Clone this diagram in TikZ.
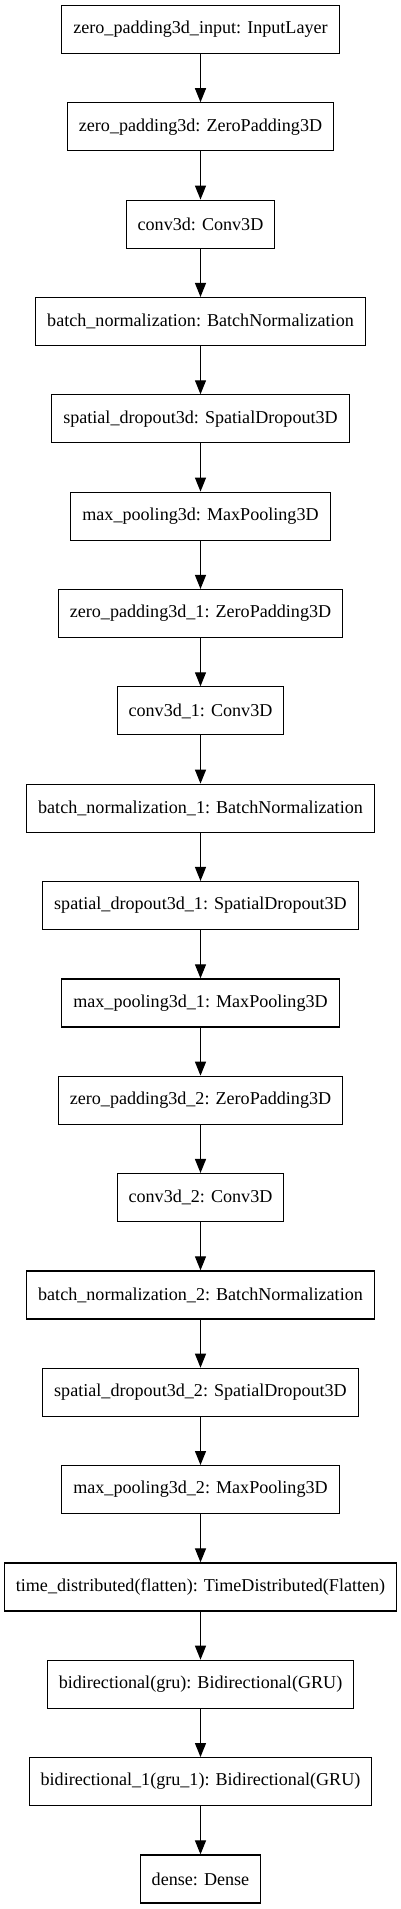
\documentclass[tikz,border=0pt]{standalone}
\usepackage{fontspec}
\setmainfont{Liberation Serif}
\usepackage{tikz}
\usetikzlibrary{arrows.meta}
\tikzstyle{layer}=[rectangle,draw=black,fill=white,line width=1.2pt,
  minimum height=48pt,inner xsep=11.5pt,font=\fontsize{18.1}{22}\selectfont]
\tikzstyle{flow}=[line width=1.2pt,-{Triangle[width=11pt,length=14pt]}]
\tikzstyle{none}=[]

\begin{document}
\begin{tikzpicture}[x=1pt,y=1pt]
		\useasboundingbox (0, 0) rectangle (401, -1909);
		\node [style=layer] (0) at (200.5, -29.5) {zero\_padding3d\_input: InputLayer};
		\node [style=layer] (1) at (200.5, -126.84) {zero\_padding3d: ZeroPadding3D};
		\node [style=layer] (2) at (200.5, -224.18) {conv3d: Conv3D};
		\node [style=layer] (3) at (200.5, -321.52) {batch\_normalization: BatchNormalization};
		\node [style=layer] (4) at (200.5, -418.86) {spatial\_dropout3d: SpatialDropout3D};
		\node [style=layer] (5) at (200.5, -516.2) {max\_pooling3d: MaxPooling3D};
		\node [style=layer] (6) at (200.5, -613.54) {zero\_padding3d\_1: ZeroPadding3D};
		\node [style=layer] (7) at (200.5, -710.88) {conv3d\_1: Conv3D};
		\node [style=layer] (8) at (200.5, -808.22) {batch\_normalization\_1: BatchNormalization};
		\node [style=layer] (9) at (200.5, -905.56) {spatial\_dropout3d\_1: SpatialDropout3D};
		\node [style=layer] (10) at (200.5, -1002.9) {max\_pooling3d\_1: MaxPooling3D};
		\node [style=layer] (11) at (200.5, -1100.24) {zero\_padding3d\_2: ZeroPadding3D};
		\node [style=layer] (12) at (200.5, -1197.58) {conv3d\_2: Conv3D};
		\node [style=layer] (13) at (200.5, -1294.92) {batch\_normalization\_2: BatchNormalization};
		\node [style=layer] (14) at (200.5, -1392.26) {spatial\_dropout3d\_2: SpatialDropout3D};
		\node [style=layer] (15) at (200.5, -1489.6) {max\_pooling3d\_2: MaxPooling3D};
		\node [style=layer] (16) at (200.5, -1586.94) {time\_distributed(flatten): TimeDistributed(Flatten)};
		\node [style=layer] (17) at (200.5, -1684.28) {bidirectional(gru): Bidirectional(GRU)};
		\node [style=layer] (18) at (200.5, -1781.62) {bidirectional\_1(gru\_1): Bidirectional(GRU)};
		\node [style=layer] (19) at (200.5, -1878.96) {dense: Dense};
		\draw [style=flow] (0) to (1);
		\draw [style=flow] (1) to (2);
		\draw [style=flow] (2) to (3);
		\draw [style=flow] (3) to (4);
		\draw [style=flow] (4) to (5);
		\draw [style=flow] (5) to (6);
		\draw [style=flow] (6) to (7);
		\draw [style=flow] (7) to (8);
		\draw [style=flow] (8) to (9);
		\draw [style=flow] (9) to (10);
		\draw [style=flow] (10) to (11);
		\draw [style=flow] (11) to (12);
		\draw [style=flow] (12) to (13);
		\draw [style=flow] (13) to (14);
		\draw [style=flow] (14) to (15);
		\draw [style=flow] (15) to (16);
		\draw [style=flow] (16) to (17);
		\draw [style=flow] (17) to (18);
		\draw [style=flow] (18) to (19);
\end{tikzpicture}
\end{document}
